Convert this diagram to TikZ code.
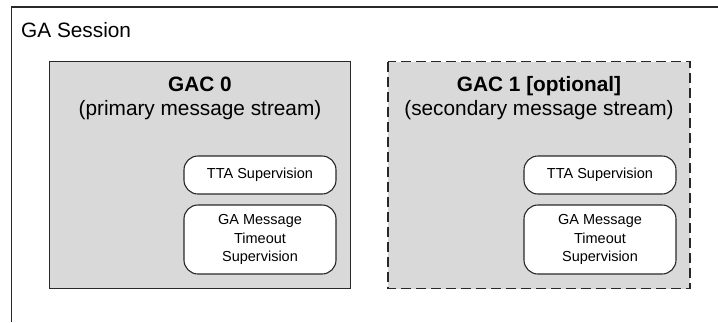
\documentclass[tikz,border=0pt]{standalone}
\usepackage{fontspec}
\setmainfont{Liberation Sans}
\definecolor{boxgray}{RGB}{217,217,217}
\definecolor{lineclr}{RGB}{40,40,40}
\tikzset{
  gacbox/.style={draw=lineclr, line width=1.2pt, fill=boxgray},
  subbox/.style={draw=lineclr, line width=1.1pt, fill=white, rounded corners=14pt},
  bigtext/.style={font=\fontsize{20.8}{25}\selectfont, anchor=base, inner sep=0pt},
  smalltext/.style={font=\fontsize{14.5}{18.5}\selectfont, align=center, inner sep=0pt},
  gapdash/.style={dash pattern=on 10pt off 5pt}
}
\begin{document}
\begin{tikzpicture}[x=1pt,y=-1pt]
\useasboundingbox (0,0) rectangle (718,322);
% outer session frame (extends beyond picture)
\draw[lineclr, line width=1.2pt] (718,7) -- (11.5,7) -- (11.5,322);
\node[bigtext, anchor=base west] (sess) at (21,37) {GA Session};

% GAC 0
\draw[gacbox] (49.5,61.5) rectangle (350.5,288.5);
\node[bigtext] (gac0t) at (200,91) {\bfseries GAC 0};
\node[bigtext] (gac0s) at (200,115) {(primary message stream)};
\draw[subbox] (184,156) rectangle (336,194);
\node[smalltext] (tta0) at (260,175) {TTA Supervision};
\draw[subbox] (184,205) rectangle (336,274);
\node[smalltext] (ga0) at (260,239.5) {GA Message\\Timeout\\Supervision};

% GAC 1
\draw[gacbox, gapdash] (388,61.5) rectangle (690,288.5);
\node[bigtext] (gac1t) at (539,91) {\bfseries GAC 1 [optional]};
\node[bigtext] (gac1s) at (539,115) {(secondary message stream)};
\draw[subbox] (524,156) rectangle (676,194);
\node[smalltext] (tta1) at (600,175) {TTA Supervision};
\draw[subbox] (524,205) rectangle (676,274);
\node[smalltext] (ga1) at (600,239.5) {GA Message\\Timeout\\Supervision};
\end{tikzpicture}
\end{document}
